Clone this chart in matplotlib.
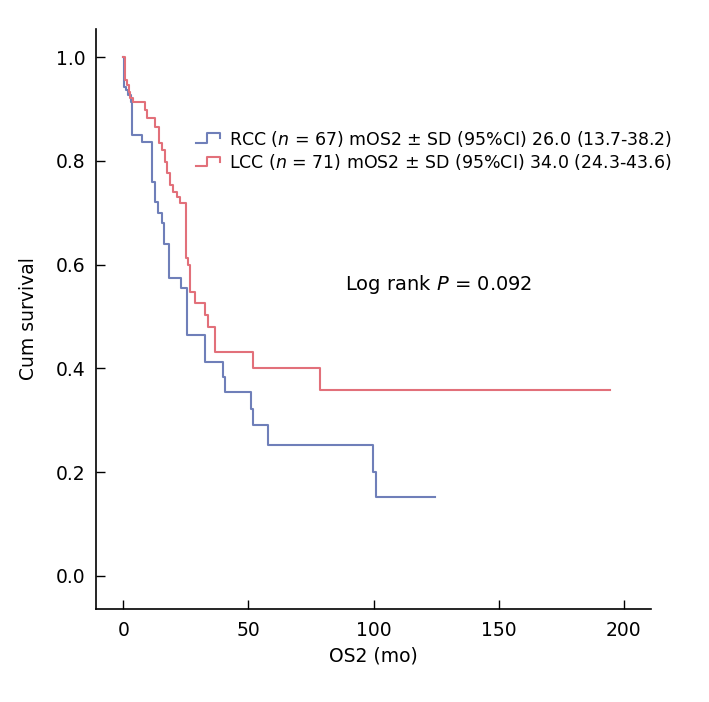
import matplotlib
matplotlib.use("Agg")
import matplotlib.pyplot as plt
from matplotlib.legend_handler import HandlerBase
from matplotlib.lines import Line2D

plt.rcParams['font.family'] = ['DejaVu Sans']
plt.rcParams['mathtext.fontset'] = 'custom'
plt.rcParams['mathtext.it'] = 'DejaVu Sans:italic'
plt.rcParams['mathtext.rm'] = 'DejaVu Sans'

# RCC (n = 67) Kaplan-Meier steps: time (months) and survival after each drop
rcc_time = [0, 0.3, 1.1, 2.0, 3.0, 3.6, 7.4, 11.5, 12.7, 14.0, 15.3, 16.3, 18.3,
            22.9, 25.3, 32.8, 39.7, 40.6, 51.0, 51.7, 57.9, 99.9, 100.8, 124.5]
rcc_surv = [1.0, 0.943, 0.937, 0.927, 0.914, 0.850, 0.837, 0.759, 0.721, 0.699,
            0.680, 0.639, 0.575, 0.554, 0.465, 0.413, 0.384, 0.354, 0.321, 0.290,
            0.253, 0.200, 0.151, 0.151]

# LCC (n = 71)
lcc_time = [0, 0.56, 1.5, 2.2, 2.8, 3.8, 8.7, 9.5, 12.7, 14.1, 15.5, 16.8, 17.5,
            18.7, 20.0, 21.3, 22.7, 24.9, 26.0, 26.8, 28.6, 32.8, 34.0, 36.8,
            51.8, 78.8, 194.5]
lcc_surv = [1.0, 0.956, 0.946, 0.933, 0.921, 0.914, 0.898, 0.882, 0.866, 0.834,
            0.821, 0.798, 0.777, 0.754, 0.740, 0.730, 0.718, 0.613, 0.599, 0.548,
            0.525, 0.503, 0.480, 0.432, 0.400, 0.359, 0.359]

rcc_label = "RCC ($n$ = 67) mOS2 ± SD (95%CI) 26.0 (13.7-38.2)"
lcc_label = "LCC ($n$ = 71) mOS2 ± SD (95%CI) 34.0 (24.3-43.6)"
logrank_text = "Log rank $P$ = 0.092"

x_ticks = [0, 50, 100, 150, 200]
y_ticks = [0.0, 0.2, 0.4, 0.6, 0.8, 1.0]

blue = "#6f7fb9"
red = "#e2707a"

fig = plt.figure(figsize=(7.09, 7.02), dpi=100)
ax = fig.add_axes([0.1347, 0.1325, 0.7833, 0.826])

ax.step(rcc_time, rcc_surv, where='post', color=blue, lw=1.5)
ax.step(lcc_time, lcc_surv, where='post', color=red, lw=1.5)

ax.set_xlim(-11.1, 210.8)
ax.set_ylim(-0.064, 1.054)
ax.set_xticks(x_ticks)
ax.set_yticks(y_ticks)
ax.set_yticklabels([f"{v:.1f}" for v in y_ticks])
ax.tick_params(direction='in', length=6.5, width=1, labelsize=13.5)
ax.tick_params(axis='y', pad=7)
ax.tick_params(axis='x', pad=9)
for s in ['top', 'right']:
    ax.spines[s].set_visible(False)
for s in ['left', 'bottom']:
    ax.spines[s].set_linewidth(1.2)

ax.set_xlabel("OS2 (mo)", fontsize=13.5, labelpad=4)
ax.set_ylabel("Cum survival", fontsize=13.5, labelpad=13)


class StepHandler(HandlerBase):
    def create_artists(self, legend, orig_handle, xdescent, ydescent, width,
                       height, fontsize, trans):
        x0 = -xdescent
        lo = -ydescent + height * 0.2
        hi = -ydescent + height * 0.95
        mid = -ydescent + height * 0.55
        xs = [x0, x0 + width * 0.45, x0 + width * 0.45, x0 + width, x0 + width]
        ys = [lo, lo, hi, hi, mid]
        ln = Line2D(xs, ys, color=orig_handle.get_color(), lw=1.5)
        ln.set_transform(trans)
        return [ln]


h1 = Line2D([], [], color=blue)
h2 = Line2D([], [], color=red)
leg = ax.legend([h1, h2], [rcc_label, lcc_label], handler_map={Line2D: StepHandler()},
                loc='upper left', bbox_to_anchor=(196 / 709, 1 - 129 / 702),
                bbox_transform=fig.transFigure, frameon=False, fontsize=12.5,
                handlelength=1.4, handletextpad=0.5, labelspacing=0.2,
                borderpad=0, borderaxespad=0)

fig.text(345 / 709, 1 - 284 / 702, logrank_text, fontsize=14, va='center', ha='left')

fig.savefig("out.png", dpi=100)
